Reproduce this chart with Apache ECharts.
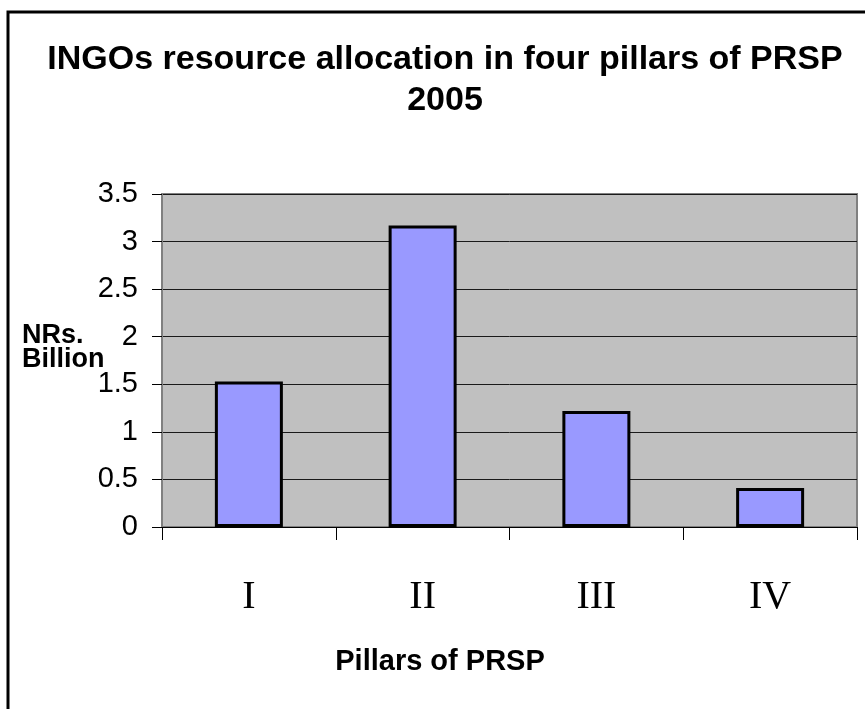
<!DOCTYPE html>
<html>
<head>
<meta charset="utf-8">
<script src="https://cdn.jsdelivr.net/npm/echarts@6/dist/echarts.min.js"></script>
<style>
html,body{margin:0;padding:0;background:#fff;}
#chart{width:865px;height:709px;}
</style>
</head>
<body>
<div id="chart"></div>
<script>
const categories = ['I', 'II', 'III', 'IV'];
const values = [1.53, 3.17, 1.22, 0.41];
const yTicks = { min: 0, max: 3.5, interval: 0.5 };
const titleLines = ['INGOs resource allocation in four pillars of PRSP', '2005'];
const yAxisTitle = 'NRs.\nBillion';
const xAxisTitle = 'Pillars of PRSP';

const chart = echarts.init(document.getElementById('chart'));
chart.setOption({
  backgroundColor: '#ffffff',
  animation: false,
  title: {
    text: titleLines.join('\n'),
    left: 440,
    top: 34,
    textAlign: 'center',
    textStyle: {
      fontFamily: 'Liberation Sans, Arial, sans-serif',
      fontWeight: 'bold',
      fontSize: 34,
      lineHeight: 41,
      color: '#000'
    }
  },
  grid: {
    left: 162,
    right: 8,
    top: 194,
    bottom: 182,
    show: true,
    backgroundColor: '#C0C0C0',
    borderColor: '#808080',
    borderWidth: 2
  },
  xAxis: {
    type: 'category',
    data: categories,
    boundaryGap: true,
    axisLine: { show: true, lineStyle: { color: '#000', width: 1 } },
    axisTick: { show: true, length: 13, lineStyle: { color: '#000', width: 1 } },
    axisLabel: {
      margin: 50,
      fontFamily: 'Liberation Serif, Times New Roman, serif',
      fontSize: 40,
      lineHeight: 40,
      color: '#000'
    }
  },
  yAxis: {
    type: 'value',
    min: yTicks.min,
    max: yTicks.max,
    interval: yTicks.interval,
    axisLine: { show: true, lineStyle: { color: '#808080', width: 2 } },
    axisTick: { show: true, length: 10, lineStyle: { color: '#000', width: 1 } },
    axisLabel: {
      margin: 24,
      fontFamily: 'Liberation Sans, Arial, sans-serif',
      fontSize: 29,
      color: '#000',
      formatter: v => String(v)
    },
    splitLine: { show: true, lineStyle: { color: '#1a1a1a', width: 1 } }
  },
  series: [{
    type: 'bar',
    data: values,
    barWidth: 68,
    itemStyle: { color: '#9999FF', borderColor: '#000', borderWidth: 3 }
  }],
  graphic: [
    {
      type: 'rect',
      shape: { x: 8, y: 12, width: 900, height: 800 },
      style: { fill: 'none', stroke: '#000', lineWidth: 3 },
      silent: true
    },
    {
      type: 'text',
      x: 22,
      y: 324,
      style: {
        text: yAxisTitle,
        font: 'bold 27px "Liberation Sans", Arial, sans-serif',
        lineHeight: 24,
        fill: '#000',
        align: 'left',
        verticalAlign: 'top'
      }
    },
    {
      type: 'text',
      x: 440,
      y: 662,
      style: {
        text: xAxisTitle,
        font: 'bold 29px "Liberation Sans", Arial, sans-serif',
        fill: '#000',
        align: 'center',
        verticalAlign: 'middle'
      }
    }
  ]
});
</script>
</body>
</html>
